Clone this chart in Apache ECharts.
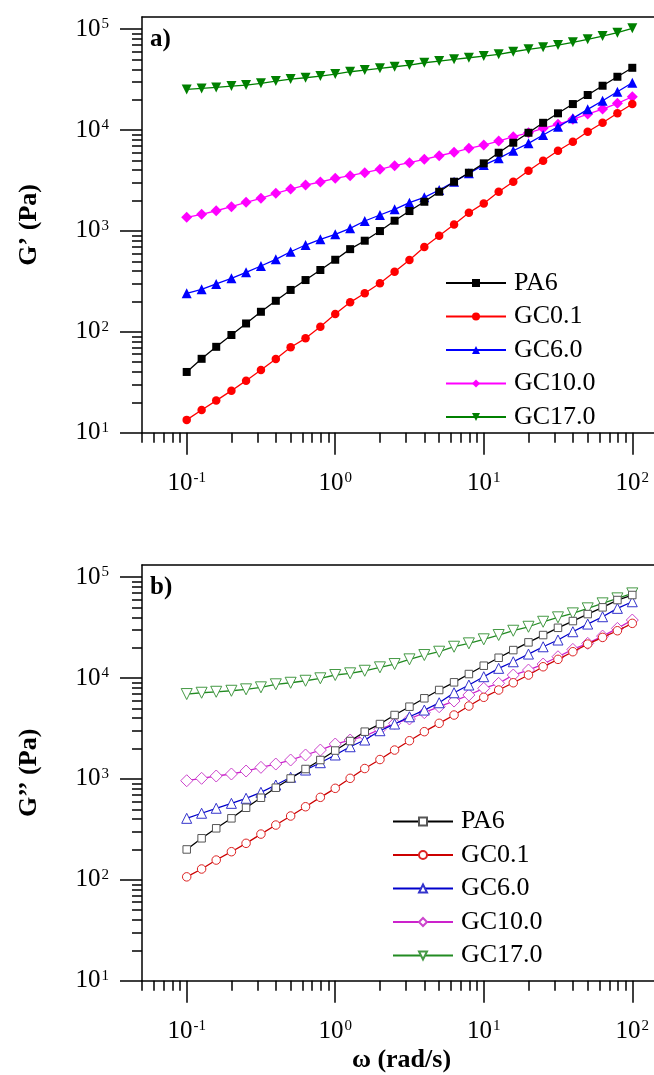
<!DOCTYPE html>
<html>
<head>
<meta charset="utf-8">
<script src="https://cdn.jsdelivr.net/npm/echarts@6/dist/echarts.min.js"></script>
<style>
html,body{margin:0;padding:0;background:#fff;}
#c{width:654px;height:1075px;}
</style>
</head>
<body>
<div id="c"></div>
<script>
// ---- data ----
const seriesNames = ['PA6', 'GC0.1', 'GC6.0', 'GC10.0', 'GC17.0'];
const freq = [0.1, 0.126, 0.158, 0.2, 0.251, 0.316, 0.398, 0.501, 0.631, 0.794,
  1, 1.26, 1.58, 2, 2.51, 3.16, 3.98, 5.01, 6.31, 7.94,
  10, 12.6, 15.8, 20, 25.1, 31.6, 39.8, 50.1, 63.1, 79.4, 100];

// storage modulus G' (Pa)
const gp_PA6 = [40, 54, 71, 93, 121, 158, 203, 260, 326, 410, 518, 660, 800, 997, 1262, 1574, 1946, 2445, 3075, 3777, 4677, 5960, 7485, 9400, 11800, 14650, 18100, 22250, 27500, 33750, 41400];
const gp_GC01 = [13.4, 16.8, 20.8, 26.1, 32.8, 41.8, 53.7, 70.2, 86.2, 112, 150, 196, 241, 303, 394, 515, 692, 894, 1161, 1514, 1875, 2447, 3076, 3955, 4967, 6240, 7660, 9620, 11800, 14650, 18100];
const gp_GC60 = [241, 264, 298, 339, 389, 449, 523, 622, 725, 826, 925, 1061, 1254, 1438, 1637, 1905, 2155, 2543, 3076, 3722, 4500, 5240, 6240, 7380, 8920, 10790, 13060, 16040, 19500, 23970, 29430];
const gp_GC100 = [1364, 1460, 1585, 1737, 1920, 2103, 2358, 2603, 2851, 3055, 3320, 3525, 3777, 4083, 4430, 4745, 5126, 5562, 6011, 6588, 7101, 7780, 8590, 9400, 10400, 11390, 12760, 14410, 16150, 18390, 21380];
const gp_GC170 = [25300, 25880, 26480, 27290, 27920, 29030, 30610, 32030, 32990, 34290, 35900, 37850, 39350, 40880, 42400, 44060, 46450, 48300, 50220, 52100, 54100, 56250, 59720, 63080, 66050, 69550, 73980, 79260, 85480, 92200, 101900];

// loss modulus G'' (Pa)
const gpp_PA6 = [200, 258, 324, 407, 518, 651, 818, 1010, 1254, 1540, 1911, 2375, 2940, 3500, 4300, 5200, 6300, 7610, 9070, 10960, 13250, 15890, 18930, 22580, 26680, 31480, 36720, 43060, 50200, 59320, 66520];
const gpp_GC01 = [107, 128, 157, 190, 230, 284, 349, 429, 530, 657, 807, 1014, 1268, 1557, 1933, 2392, 2940, 3559, 4298, 5280, 6443, 7610, 8980, 10710, 12940, 15320, 18240, 21720, 25300, 29440, 34850];
const gpp_GC60 = [407, 457, 512, 573, 643, 737, 870, 1038, 1225, 1448, 1727, 2085, 2430, 3005, 3500, 4132, 4816, 5690, 7145, 8525, 10310, 12480, 14500, 17290, 20420, 23820, 28770, 34290, 40530, 49080, 57050];
const gpp_GC100 = [960, 1014, 1069, 1119, 1198, 1303, 1405, 1540, 1727, 1933, 2218, 2430, 2663, 3102, 3559, 3928, 4533, 5200, 5917, 6788, 7911, 8861, 10710, 12000, 13770, 16260, 19240, 22080, 26060, 31050, 37580];
const gpp_GC170 = [6940, 7150, 7310, 7480, 7730, 8090, 8670, 8980, 9400, 9940, 10720, 11140, 11810, 12770, 13770, 15320, 16910, 18240, 20440, 22080, 24200, 26700, 29440, 32240, 36140, 39970, 43770, 49100, 55000, 61660, 69050];

// tick values
const xMajorTicks = [0.1, 1, 10, 100];
const xMinorTicks = [0.05, 0.06, 0.07, 0.08, 0.09, 0.2, 0.3, 0.4, 0.5, 0.6, 0.7, 0.8, 0.9,
  2, 3, 4, 5, 6, 7, 8, 9, 20, 30, 40, 50, 60, 70, 80, 90];
const yMajorTicks = [10, 100, 1000, 10000, 100000];
const yMinorTicks = [20, 30, 40, 50, 60, 70, 80, 90, 200, 300, 400, 500, 600, 700, 800, 900,
  2000, 3000, 4000, 5000, 6000, 7000, 8000, 9000, 20000, 30000, 40000, 50000, 60000, 70000, 80000, 90000];

// ---- chart ----
const FONT = 'Liberation Serif';
const X_MIN = 0.05, X_MAX = 200, Y_MIN = 10, Y_MAX = 132000;

function pow10Label(v) {
  const e = Math.round(Math.log10(v));
  return '{b|10}{s|' + e + '}';
}
const richSup = {
  b: { fontFamily: FONT, fontSize: 25, color: '#000', lineHeight: 25, padding: [6, 0, 0, 0], verticalAlign: 'bottom' },
  s: { fontFamily: FONT, fontSize: 15, color: '#000', lineHeight: 15, verticalAlign: 'top', padding: [0, 0, 0, 1] }
};
const axisLineStyle = { color: '#000', width: 1.5 };

function xAxesFor(gi, withName) {
  return [
    {
      type: 'log', gridIndex: gi, min: X_MIN, max: X_MAX, position: 'bottom',
      name: withName ? 'ω (rad/s)' : '', nameLocation: 'middle', nameGap: 67,
      nameTextStyle: { fontFamily: FONT, fontSize: 26, fontWeight: 'bold', color: '#000', padding: [0, 16, 0, 0] },
      axisLine: { show: true, lineStyle: axisLineStyle },
      axisTick: { show: true, inside: false, length: 22, lineStyle: axisLineStyle, customValues: xMajorTicks },
      axisLabel: { show: true, customValues: xMajorTicks, formatter: pow10Label, rich: richSup, margin: 38 },
      splitLine: { show: false }, minorTick: { show: false }
    },
    {
      type: 'log', gridIndex: gi, min: X_MIN, max: X_MAX, position: 'bottom',
      axisLine: { show: false },
      axisTick: { show: true, inside: false, length: 10, lineStyle: axisLineStyle, customValues: xMinorTicks },
      axisLabel: { show: false }, splitLine: { show: false }
    },
    {
      type: 'log', gridIndex: gi, min: X_MIN, max: X_MAX, position: 'top',
      axisLine: { show: true, lineStyle: axisLineStyle },
      axisTick: { show: false }, axisLabel: { show: false }, splitLine: { show: false }
    }
  ];
}
function yAxesFor(gi, title) {
  return [
    {
      type: 'log', gridIndex: gi, min: Y_MIN, max: Y_MAX, position: 'left',
      name: title, nameLocation: 'middle', nameGap: 100, nameRotate: 90,
      nameTextStyle: { fontFamily: FONT, fontSize: 26, fontWeight: 'bold', color: '#000' },
      axisLine: { show: true, lineStyle: axisLineStyle },
      axisTick: { show: true, inside: false, length: 22, lineStyle: axisLineStyle, customValues: yMajorTicks },
      axisLabel: { show: true, customValues: yMajorTicks, formatter: pow10Label, rich: richSup, margin: 33 },
      splitLine: { show: false }, minorTick: { show: false }
    },
    {
      type: 'log', gridIndex: gi, min: Y_MIN, max: Y_MAX, position: 'left',
      axisLine: { show: false },
      axisTick: { show: true, inside: false, length: 10, lineStyle: axisLineStyle, customValues: yMinorTicks },
      axisLabel: { show: false }, splitLine: { show: false }
    }
  ];
}

const topStyles = [
  { color: '#000000', symbol: 'rect', size: 8, rotate: 0 },
  { color: '#ff0000', symbol: 'circle', size: 8.5, rotate: 0 },
  { color: '#0000ff', symbol: 'triangle', size: 10, rotate: 0 },
  { color: '#ff00ff', symbol: 'diamond', size: 11, rotate: 0 },
  { color: '#008000', symbol: 'triangle', size: 10, rotate: 180 }
];
const botStyles = [
  { line: '#000000', border: '#555555', symbol: 'rect', size: 7.5, rotate: 0 },
  { line: '#cc0000', border: '#dd2222', symbol: 'circle', size: 8.5, rotate: 0 },
  { line: '#0000cc', border: '#3333cc', symbol: 'triangle', size: 10, rotate: 0 },
  { line: '#cc22cc', border: '#cc44cc', symbol: 'diamond', size: 12, rotate: 0 },
  { line: '#228b22', border: '#449944', symbol: 'triangle', size: 11, rotate: 180 }
];
const gpData = [gp_PA6, gp_GC01, gp_GC60, gp_GC100, gp_GC170];
const gppData = [gpp_PA6, gpp_GC01, gpp_GC60, gpp_GC100, gpp_GC170];

const series = [];
seriesNames.forEach((nm, i) => {
  const st = topStyles[i];
  series.push({
    name: 'a:' + nm, type: 'line', xAxisIndex: 0, yAxisIndex: 0,
    data: freq.map((f, k) => [f, gpData[i][k]]),
    symbol: st.symbol, symbolSize: st.size, symbolRotate: st.rotate,
    showAllSymbol: true, z: 10 - i,
    lineStyle: { color: st.color, width: 1.3 },
    itemStyle: { color: st.color, borderWidth: 0 }
  });
});
seriesNames.forEach((nm, i) => {
  const st = botStyles[i];
  series.push({
    name: 'b:' + nm, type: 'line', xAxisIndex: 3, yAxisIndex: 2,
    data: freq.map((f, k) => [f, gppData[i][k]]),
    symbol: st.symbol, symbolSize: st.size, symbolRotate: st.rotate,
    showAllSymbol: true, z: 10 - i,
    lineStyle: { color: st.line, width: 1.3 },
    itemStyle: { color: '#ffffff', borderColor: st.border, borderWidth: 1 }
  });
});

const legendCommon = {
  orient: 'vertical', itemWidth: 60, itemHeight: 10, itemGap: 7.5, padding: 0,
  formatter: (n) => n.slice(2),
  textStyle: { fontFamily: FONT, fontSize: 26, color: '#000', lineHeight: 26, padding: [0, 0, 0, 3] },
  selectedMode: false
};

const option = {
  animation: false,
  backgroundColor: '#ffffff',
  title: [
    { text: 'a)', left: 145, top: 22, textStyle: { fontFamily: FONT, fontSize: 25, fontWeight: 'bold', color: '#000' } },
    { text: 'b)', left: 145, top: 570, textStyle: { fontFamily: FONT, fontSize: 25, fontWeight: 'bold', color: '#000' } }
  ],
  grid: [
    { left: 142, top: 17, width: 535, height: 415.7, containLabel: false, outerBoundsMode: 'none' },
    { left: 142, top: 565, width: 535, height: 415.7, containLabel: false, outerBoundsMode: 'none' }
  ],
  xAxis: [].concat(xAxesFor(0, false), xAxesFor(1, true)),
  yAxis: [].concat(yAxesFor(0, 'G’ (Pa)'), yAxesFor(1, 'G’’ (Pa)')),
  legend: [
    Object.assign({}, legendCommon, { left: 445, top: 270, data: seriesNames.map(n => 'a:' + n) }),
    Object.assign({}, legendCommon, { left: 392, top: 808.5, data: seriesNames.map(n => 'b:' + n) })
  ],
  series: series
};

const chart = echarts.init(document.getElementById('c'), null, { renderer: 'canvas', width: 654, height: 1075 });
chart.setOption(option);
</script>
</body>
</html>
